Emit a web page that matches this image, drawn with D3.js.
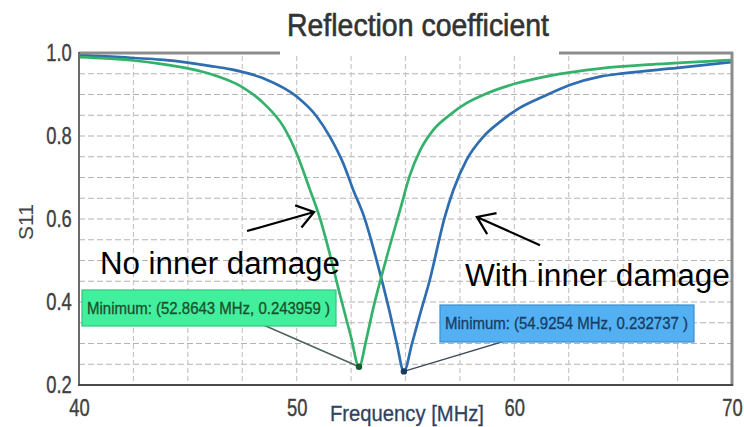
<!DOCTYPE html>
<html>
<head>
<meta charset="utf-8">
<script src="https://cdn.jsdelivr.net/npm/d3@7"></script>
<style>
  html, body { margin: 0; padding: 0; background: #fff; }
  svg { display: block; }
</style>
</head>
<body>
<svg id="chart" width="744" height="427"></svg>
<script>
// ---------------- data ----------------
const freqNoDamage = [40, 41.25, 42.5, 43.75, 45, 46.25, 47.5, 48.5, 49.4, 50, 50.6, 51.07, 51.5, 52, 52.5, 52.8643,
  53.2, 53.5, 54.1, 54.75, 55.2, 55.66, 56.27, 57.04, 57.8, 58.75, 60.1, 61.6, 64, 66.5, 70];
const s11NoDamage = [0.990, 0.987, 0.982, 0.974, 0.963, 0.946, 0.918, 0.878, 0.822, 0.758, 0.672, 0.602, 0.520, 0.415, 0.315, 0.243959,
  0.310, 0.381, 0.501, 0.622, 0.705, 0.764, 0.814, 0.851, 0.879, 0.903, 0.927, 0.945, 0.963, 0.973, 0.983];

const freqDamage = [40, 41.25, 42.5, 43.75, 45, 46, 46.94, 48.47, 50, 50.92, 51.53, 52.14, 52.6, 53.1, 53.67, 54.25, 54.6, 54.9254,
  55.3, 55.66, 56.1, 56.81, 57.2, 57.8, 58.57, 59.34, 60.1, 61.33, 62.55, 63.93, 65, 67.5, 70];
const s11Damage = [0.995, 0.992, 0.988, 0.984, 0.977, 0.969, 0.961, 0.939, 0.895, 0.847, 0.798, 0.734, 0.670, 0.605, 0.501, 0.381, 0.300, 0.232737,
  0.300, 0.369, 0.450, 0.606, 0.670, 0.742, 0.798, 0.834, 0.863, 0.895, 0.923, 0.943, 0.951, 0.964, 0.978];

const minNoDamage = [52.8643, 0.243959];
const minDamage = [54.9254, 0.232737];

const xTicks = [40, 50, 60, 70];
const yTicks = [0.2, 0.4, 0.6, 0.8, 1.0];
const xGrid = [42.5, 45, 47.5, 50, 52.5, 55, 57.5, 60, 62.5, 65, 67.5];
const yGrid = [0.25, 0.3, 0.35, 0.4, 0.45, 0.5, 0.55, 0.6, 0.65, 0.7, 0.75, 0.8, 0.85, 0.9, 0.95];

const titleText = "Reflection coefficient";
const xTitle = "Frequency [MHz]";
const yTitle = "S11";
const labelNo = "No inner damage";
const labelWith = "With inner damage";

// ---------------- layout ----------------
const svg = d3.select("#chart");
const L = 79, R = 732, T = 53, B = 385;
const x = d3.scaleLinear().domain([40, 70]).range([L, R]);
const y = d3.scaleLinear().domain([0.2, 1.0]).range([B, T]);
const FONT = "'Liberation Sans', Arial, Helvetica, sans-serif";

svg.append("rect").attr("width", 744).attr("height", 427).attr("fill", "#fff");

// grid
const g = svg.append("g");
g.selectAll("line.hg").data(yGrid).join("line")
  .attr("x1", L).attr("x2", R).attr("y1", d => y(d)).attr("y2", d => y(d))
  .attr("stroke", "#b9b1b1").attr("stroke-width", 1.2).attr("stroke-dasharray", "6,3");
g.selectAll("line.vg").data(xGrid).join("line")
  .attr("y1", T + 3).attr("y2", B).attr("x1", d => x(d)).attr("x2", d => x(d))
  .attr("stroke", "#c8c1c1").attr("stroke-width", 1.1).attr("stroke-dasharray", "5,3");

// clip
svg.append("clipPath").attr("id", "clip").append("rect")
  .attr("x", L).attr("y", T - 2).attr("width", R - L).attr("height", B - T + 2);

const line = d3.line().x(d => x(d[0])).y(d => y(d[1])).curve(d3.curveMonotoneX);
const dataNo = freqNoDamage.map((f, i) => [f, s11NoDamage[i]]);
const dataWith = freqDamage.map((f, i) => [f, s11Damage[i]]);

const curves = svg.append("g").attr("clip-path", "url(#clip)");
curves.append("path").datum(dataWith).attr("d", line)
  .attr("fill", "none").attr("stroke", "#2d6db0").attr("stroke-width", 2.7);
curves.append("path").datum(dataNo).attr("d", line)
  .attr("fill", "none").attr("stroke", "#34b26c").attr("stroke-width", 2.7);

// borders
svg.append("line").attr("x1", L).attr("x2", 280).attr("y1", T).attr("y2", T).attr("stroke", "#8c8c8c").attr("stroke-width", 3);
svg.append("line").attr("x1", 559).attr("x2", R + 1).attr("y1", T).attr("y2", T).attr("stroke", "#8c8c8c").attr("stroke-width", 3);
svg.append("line").attr("x1", L).attr("x2", L).attr("y1", T - 1).attr("y2", B + 1).attr("stroke", "#6a6a6a").attr("stroke-width", 2);
svg.append("line").attr("x1", R).attr("x2", R).attr("y1", T - 1).attr("y2", B + 1).attr("stroke", "#8c8c8c").attr("stroke-width", 3);
svg.append("line").attr("x1", L - 1).attr("x2", R + 1).attr("y1", B).attr("y2", B).attr("stroke", "#4a4a4a").attr("stroke-width", 2);

// axes
const yAxis = svg.append("g").attr("transform", `translate(${L},0)`)
  .call(d3.axisLeft(y).tickValues(yTicks).tickFormat(d3.format(".1f")).tickSize(0).tickPadding(9));
const xAxis = svg.append("g").attr("transform", `translate(0,${B})`)
  .call(d3.axisBottom(x).tickValues(xTicks).tickFormat(d3.format("d")).tickSize(0).tickPadding(15));
[yAxis, xAxis].forEach(a => {
  a.select(".domain").remove();
  a.selectAll("text").attr("font-family", FONT).attr("font-size", 23).attr("fill", "#404040")
    .attr("stroke", "#404040").attr("stroke-width", 0.35)
    .attr("transform", "scale(0.8,1)");
});

// titles
svg.append("text").attr("x", 418).attr("y", 36).attr("text-anchor", "middle")
  .attr("font-family", FONT).attr("font-size", 31).attr("fill", "#333")
  .attr("stroke", "#333").attr("stroke-width", 0.6)
  .attr("textLength", 262).attr("lengthAdjust", "spacingAndGlyphs").text(titleText);
svg.append("text").attr("x", 407).attr("y", 421).attr("text-anchor", "middle")
  .attr("font-family", FONT).attr("font-size", 22).attr("fill", "#2f4260")
  .attr("stroke", "#2f4260").attr("stroke-width", 0.3)
  .attr("textLength", 154).attr("lengthAdjust", "spacingAndGlyphs").text(xTitle);
svg.append("text").attr("transform", "translate(33,222) rotate(-90)").attr("text-anchor", "middle")
  .attr("font-family", FONT).attr("font-size", 21).attr("fill", "#444").text(yTitle);

// min markers with leader lines and label boxes
function minLabel(pt, box, fill, stroke, textFill, leaderColor, dotColor) {
  const px = x(pt[0]), py = y(pt[1]);
  svg.append("line").attr("x1", px).attr("y1", py).attr("x2", box.lx).attr("y2", box.ly)
    .attr("stroke", leaderColor).attr("stroke-width", 1.4);
  svg.append("rect").attr("x", box.x).attr("y", box.y).attr("width", box.w).attr("height", box.h)
    .attr("fill", fill).attr("stroke", stroke).attr("stroke-width", 1.2);
  svg.append("text").attr("x", box.x + 5).attr("y", box.y + box.h / 2 + 5.5)
    .attr("font-family", FONT).attr("font-size", 16).attr("fill", textFill)
    .attr("stroke", textFill).attr("stroke-width", 0.3)
    .attr("textLength", box.w - 11).attr("lengthAdjust", "spacingAndGlyphs")
    .text(`Minimum: (${pt[0]} MHz, ${pt[1]} )`);
  svg.append("circle").attr("cx", px).attr("cy", py).attr("r", 3.2).attr("fill", dotColor);
}
minLabel(minNoDamage, {x: 82, y: 290, w: 254, h: 36, lx: 252, ly: 320},
  "#41ef9c", "#2fc67f", "#1c4f2c", "#4a6258", "#175a32");
minLabel(minDamage, {x: 440, y: 305, w: 254, h: 37, lx: 515, ly: 338},
  "#53b0f2", "#3b8fd2", "#173d66", "#3d4d5e", "#173a5e");

// annotations
function arrow(tail, tip) {
  const x0 = x(tail[0]), y0 = y(tail[1]), x1 = x(tip[0]), y1 = y(tip[1]);
  const ang = Math.atan2(y0 - y1, x0 - x1);
  const len = 20, spread = 35 * Math.PI / 180;
  const a1 = [x1 + len * Math.cos(ang + spread), y1 + len * Math.sin(ang + spread)];
  const a2 = [x1 + len * Math.cos(ang - spread), y1 + len * Math.sin(ang - spread)];
  svg.append("path")
    .attr("d", `M${x0},${y0}L${x1},${y1}M${a1[0]},${a1[1]}L${x1},${y1}L${a2[0]},${a2[1]}`)
    .attr("fill", "none").attr("stroke", "#000").attr("stroke-width", 2.2);
}
arrow([47.72, 0.571], [50.8, 0.617]);
arrow([61.18, 0.537], [58.28, 0.605]);

svg.append("text").attr("x", x(40.96)).attr("y", y(0.4675))
  .attr("font-family", FONT).attr("font-size", 31).attr("fill", "#000")
  .attr("textLength", 240).attr("lengthAdjust", "spacingAndGlyphs").text(labelNo);
svg.append("text").attr("x", x(57.73)).attr("y", y(0.4386))
  .attr("font-family", FONT).attr("font-size", 31).attr("fill", "#000")
  .attr("textLength", 265).attr("lengthAdjust", "spacingAndGlyphs").text(labelWith);
</script>
</body>
</html>
